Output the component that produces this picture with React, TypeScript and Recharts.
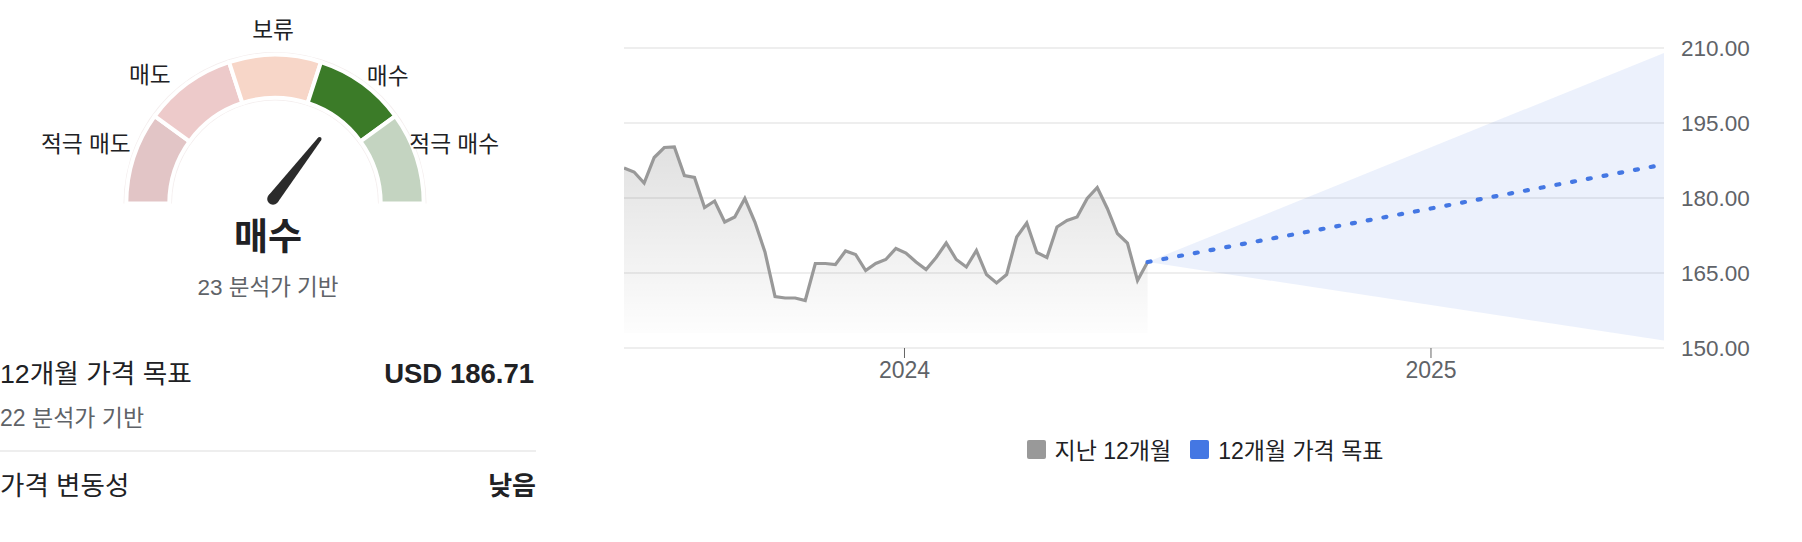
import React from "react";
import {
  PieChart, Pie, Cell,
  ComposedChart, Area, Line, XAxis, YAxis, CartesianGrid, Legend,
} from "recharts";

const FONT = "'Liberation Sans', 'Noto Sans CJK KR', sans-serif";
const TEXT = "#202124";
const MUTED = "#5f6368";

// analyst rating gauge
const ratingLabels = ["적극 매도", "매도", "보류", "매수", "적극 매수"];
const ratingColors = ["#e2c5c6", "#edcaca", "#f7d6c8", "#3b7b28", "#c4d4c1"];
const ratingNeedle = 0.71; // 0 = far left of dial, 1 = far right
const ratingConsensus = "매수";
const ratingAnalysts = 23;

// price target summary
const targetLabel = "12개월 가격 목표";
const targetPrice = 186.71;
const targetAnalysts = 22;
const volatilityLabel = "가격 변동성";
const volatilityValue = "낮음";

// weekly closes, last 12 months
const historyDates = [
  "2023-06-20", "2023-06-27", "2023-07-04", "2023-07-11", "2023-07-18", "2023-07-25",
  "2023-08-01", "2023-08-08", "2023-08-15", "2023-08-22", "2023-08-29",
  "2023-09-05", "2023-09-12", "2023-09-19", "2023-09-26",
  "2023-10-03", "2023-10-10", "2023-10-17", "2023-10-24", "2023-10-31",
  "2023-11-07", "2023-11-14", "2023-11-21", "2023-11-28",
  "2023-12-05", "2023-12-12", "2023-12-19", "2023-12-26",
  "2024-01-02", "2024-01-09", "2024-01-16", "2024-01-23", "2024-01-30",
  "2024-02-06", "2024-02-13", "2024-02-20", "2024-02-27",
  "2024-03-05", "2024-03-12", "2024-03-19", "2024-03-26",
  "2024-04-02", "2024-04-09", "2024-04-16", "2024-04-23", "2024-04-30",
  "2024-05-07", "2024-05-14", "2024-05-21", "2024-05-28",
  "2024-06-04", "2024-06-11", "2024-06-18",
];
const historyPrices = [
  186.0, 185.2, 183.0, 188.1, 190.1, 190.2,
  184.5, 184.1, 178.1, 179.4, 175.2,
  176.2, 179.9, 175.2, 169.2,
  160.3, 160.0, 160.0, 159.5, 166.9,
  166.9, 166.7, 169.4, 168.7,
  165.5, 166.9, 167.7, 169.9,
  169.0, 167.2, 165.7, 168.1, 171.0,
  167.7, 166.2, 169.5, 164.7,
  163.0, 164.7, 172.2, 175.0,
  169.1, 168.1, 174.2, 175.5, 176.2,
  179.9, 182.1, 177.9, 172.9,
  171.0, 163.5, 167.2,
];

// 12-month target cone
const forecastDates = ["2024-06-18", "2025-06-12"];
const forecastMid = [167.2, 186.71];
const forecastHigh = [167.2, 209.0];
const forecastLow = [167.2, 151.5];

const xDomain = ["2023-06-20", "2025-06-12"];
const xTicks = ["2024-01-01", "2025-01-01"];
const yTicks = [150, 165, 180, 195, 210];
const seriesNames = ["지난 12개월", "12개월 가격 목표"];

const HIST_COLOR = "#999999";
const TARGET_COLOR = "#4477e3";

const toTime = (d: string) => Date.parse(d + "T00:00:00Z");

const chartData: any[] = historyDates.map((d, i) => ({ t: toTime(d), price: historyPrices[i] }));
forecastDates.forEach((d, i) => {
  const t = toTime(d);
  const extra = { target: forecastMid[i], band: [forecastLow[i], forecastHigh[i]] };
  const hit = chartData.find((p) => p.t === t);
  if (hit) Object.assign(hit, extra);
  else chartData.push({ t, ...extra });
});

const gaugeData = ratingLabels.map((name, i) => ({ name, value: 1, color: ratingColors[i] }));

const RAD = Math.PI / 180;
// hand-tuned label offsets so the words sit where the original places them
const LABEL_NUDGE: [number, number][] = [[5, -11], [-12, -1.5], [-2, -16.5], [-0.5, -0.5], [-15, -11]];

function gaugeLabel(p: any) {
  const { cx, cy, midAngle, outerRadius, index, name } = p;
  const r = outerRadius + 8.3;
  const c = Math.cos(midAngle * RAD);
  const x = cx + r * c + LABEL_NUDGE[index][0];
  const y = cy - r * Math.sin(midAngle * RAD) + LABEL_NUDGE[index][1];
  const anchor = c > 0.1 ? "start" : c < -0.1 ? "end" : "middle";
  return (
    <text key={name} x={x} y={y} textAnchor={anchor} dominantBaseline="central"
      fontSize={22.7} fill={TEXT} fontFamily={FONT}>
      {name}
    </text>
  );
}

function needleLabel(p: any) {
  const angle = 180 - 180 * ratingNeedle;
  const bx = p.cx - 2, by = p.cy - 4.5;
  const len = 76;
  const ux = Math.cos(angle * RAD), uy = -Math.sin(angle * RAD);
  const px = -uy, py = ux;
  const tx = bx + ux * len, ty = by + uy * len;
  const w0 = 5.8, w1 = 2;
  const d = `M ${bx + px * w0} ${by + py * w0} L ${tx + px * w1} ${ty + py * w1} L ${tx - px * w1} ${ty - py * w1} L ${bx - px * w0} ${by - py * w0} Z`;
  return (
    <g key="needle">
      <path d={d} fill="#2b2b2b" />
      <circle cx={bx} cy={by} r={w0} fill="#2b2b2b" />
      <circle cx={tx} cy={ty} r={w1} fill="#2b2b2b" />
    </g>
  );
}

function LegendContent(props: any) {
  const items = (props.payload || [])
    .filter((it: any) => seriesNames.includes(it.value))
    .sort((a: any, b: any) => seriesNames.indexOf(a.value) - seriesNames.indexOf(b.value));
  return (
    <div style={{ display: "flex", justifyContent: "center", fontFamily: FONT, fontSize: 23, color: TEXT }}>
      {items.map((it: any, i: number) => (
        <div key={it.value} style={{ display: "flex", alignItems: "center", marginLeft: i ? 19 : 0, height: 24 }}>
          <span style={{ width: 19, height: 19, background: it.color, borderRadius: 2, marginRight: 9 }} />
          <span>{it.value}</span>
        </div>
      ))}
    </div>
  );
}

const abs = (o: React.CSSProperties): React.CSSProperties => ({ position: "absolute", ...o });

export default function App() {
  return (
    <div style={abs({ left: 0, top: 0, width: 1802, height: 542, background: "#fff", fontFamily: FONT, color: TEXT, overflow: "hidden" })}>
      {/* rating gauge */}
      <div style={abs({ left: 0, top: 0 })}>
        <PieChart width={540} height={320}>
          <Pie data={[{ name: "ring", value: 1 }]} dataKey="value" cx={270} cy={198.5}
            startAngle={180} endAngle={0} innerRadius={103} outerRadius={151.5}
            fill="#f4eeee" stroke="none" isAnimationActive={false}
            label={needleLabel} labelLine={false} />
          <Pie data={gaugeData} dataKey="value" nameKey="name" cx={270} cy={198.5}
            startAngle={180} endAngle={0} innerRadius={105.7} outerRadius={148.7}
            stroke="#fff" strokeWidth={4} isAnimationActive={false}
            label={gaugeLabel} labelLine={false}>
            {gaugeData.map((g) => <Cell key={g.name} fill={g.color} />)}
          </Pie>
        </PieChart>
      </div>
      <div style={abs({ left: 0, top: 216, width: 536, textAlign: "center", fontSize: 37, lineHeight: "44px", fontWeight: 700 })}>
        {ratingConsensus}
      </div>
      <div style={abs({ left: 0, top: 274, width: 536, textAlign: "center", fontSize: 22.5, lineHeight: "28px", color: MUTED })}>
        {ratingAnalysts} 분석가 기반
      </div>

      {/* summary rows */}
      <div style={abs({ left: 0, top: 358, fontSize: 26.7, lineHeight: "32px" })}>{targetLabel}</div>
      <div style={abs({ left: 0, top: 358, width: 534, textAlign: "right", fontSize: 27.5, lineHeight: "32px", fontWeight: 700 })}>
        USD {targetPrice.toFixed(2)}
      </div>
      <div style={abs({ left: 0, top: 404, fontSize: 23, lineHeight: "28px", color: MUTED })}>
        {targetAnalysts} 분석가 기반
      </div>
      <div style={abs({ left: 0, top: 450, width: 536, height: 2, background: "#eeeeee" })} />
      <div style={abs({ left: 0, top: 470, fontSize: 26.5, lineHeight: "32px" })}>{volatilityLabel}</div>
      <div style={abs({ left: 0, top: 470, width: 536, textAlign: "right", fontSize: 26, lineHeight: "32px", fontWeight: 700 })}>
        {volatilityValue}
      </div>

      {/* price chart */}
      <div style={abs({ left: 610, top: 0 })}>
        <ComposedChart width={1190} height={542} data={chartData}
          margin={{ top: 48, right: 36, bottom: 154, left: 14 }}>
          <defs>
            <linearGradient id="histFill" x1="0" y1="0" x2="0" y2="1">
              <stop offset="0%" stopColor="#000" stopOpacity={0.12} />
              <stop offset="100%" stopColor="#000" stopOpacity={0.008} />
            </linearGradient>
          </defs>
          <CartesianGrid vertical={false} stroke="#e9e9e9" strokeWidth={1.5} />
          <XAxis dataKey="t" type="number" domain={[toTime(xDomain[0]), toTime(xDomain[1])]}
            allowDataOverflow ticks={xTicks.map(toTime)} interval={0}
            tickFormatter={(v) => String(new Date(v).getUTCFullYear())}
            axisLine={false} tickSize={10} tickMargin={4} height={40}
            tickLine={{ stroke: "#666" }}
            tick={{ fill: MUTED, fontSize: 23, fontFamily: FONT }} />
          <YAxis orientation="right" domain={[150, 210]} ticks={yTicks} allowDataOverflow
            tickFormatter={(v) => Number(v).toFixed(2)} axisLine={false} tickLine={false}
            tickMargin={11} width={100}
            tick={{ fill: MUTED, fontSize: 22.5, fontFamily: FONT }} />
          <Area dataKey="band" type="linear" stroke="none" fill={TARGET_COLOR} fillOpacity={0.1}
            legendType="none" isAnimationActive={false} />
          <Area dataKey="price" name={seriesNames[0]} type="linear" stroke={HIST_COLOR} strokeWidth={3.2}
            fill="url(#histFill)" fillOpacity={1} baseValue={153} dot={false} activeDot={false}
            isAnimationActive={false} />
          <Line dataKey="target" name={seriesNames[1]} type="linear" stroke={TARGET_COLOR} strokeWidth={4.2}
            strokeDasharray="3 13" strokeLinecap="round" dot={false} activeDot={false}
            isAnimationActive={false} />
          <Legend verticalAlign="middle" align="center" layout="horizontal"
            wrapperStyle={{ top: 437, left: 0, width: 1190 }} content={<LegendContent />} />
        </ComposedChart>
      </div>
    </div>
  );
}
